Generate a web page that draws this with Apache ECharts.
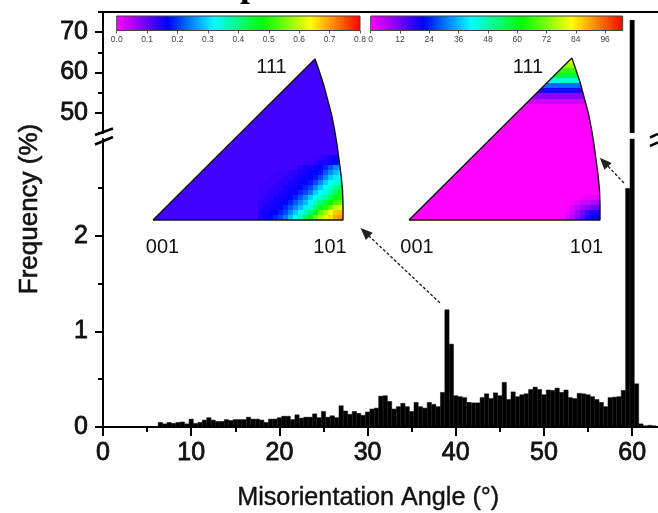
<!DOCTYPE html>
<html><head><meta charset="utf-8">
<style>html,body{margin:0;padding:0;background:#fff}#c{width:658px;height:513px}</style>
<script src="https://cdn.jsdelivr.net/npm/echarts@6/dist/echarts.min.js"></script>
</head><body><div id="c"></div>
<script>
// Histogram
const binStart = 6.5, binStep = 0.5;
const freq = [.05,.035,.05,.04,.05,.055,.035,.085,.04,.05,.075,.1,.075,.06,.06,.08,.07,.08,.08,.08,.105,.085,.085,.075,.05,.085,.085,
.1,.115,.115,.08,.13,.095,.105,.105,.14,.1,.165,.105,.12,.1,.225,.17,.135,.165,.145,.125,.16,.19,.2,.325,.33,.27,.19,.215,.25,.215,.165,.26,.215,.2,.26,.24,.215,.365,1.23,.87,
.33,.32,.31,.26,.255,.255,.31,.35,.30,.36,.33,.47,.29,.37,.32,.34,.35,.395,.42,.395,.34,.39,.385,.41,.365,.39,.31,.30,.355,.35,.34,.32,.29,.26,.215,.31,.315,.32,.385,2.5,73,.455,.035,.015,.02,.015];
const xMajor = [0,10,20,30,40,50,60], xMinor = [5,15,25,35,45,55];
const yLowMajor = [0,1,2], yLowMinor = [.5,1.5,2.5];
const yUpMajor = [50,60,70], yUpMinor = [45,55,65,75];
const arrows = [[[38.2,1.30],[29.7,2.04]],[[59.07,2.555],[56.8,2.775]]];

// Colour keys
const rainbowStops = [[0,'#ff00ff'],[.21,'#0000ff'],[.40,'#00ffff'],[.60,'#00ff00'],[.795,'#ffff00'],[1,'#ff0000']];
const scaleA = [0,.8], ticksA = [0,.1,.2,.3,.4,.5,.6,.7,.8];
const scaleB = [0,103.2], ticksB = [0,12,24,36,48,60,72,84,96];

// Inverse pole figures: cells of a 38 x 32 lattice
const ipfCols = 38, ipfRows = 32;
const outlineX = [0,32.4,33.1,34.1,34.9,35.7,36.3,36.8,37.2,37.6,37.9,38,38,0];
const outlineY = [0,32,30,27,24,21,18,15,12,9,6,3,0,0];
const baseA = .125, baseB = 0;
const hotAStartCol = 21;
const hotA = [
[.15,.16,.17,.19,.21,.24,.28,.32,.37,.42,.48,.54,.59,.62,.66,.69,.70],
[.15,.155,.16,.17,.19,.21,.25,.29,.32,.36,.42,.48,.54,.58,.63,.67,.68],
[.14,.15,.155,.16,.17,.19,.22,.25,.28,.31,.35,.41,.46,.50,.55,.60,.62],
[.14,.14,.15,.155,.16,.17,.19,.22,.25,.28,.32,.36,.40,.44,.48,.52,.54],
[.13,.14,.14,.15,.155,.16,.17,.19,.22,.25,.29,.33,.35,.38,.43,.47,.49],
[.13,.13,.14,.14,.15,.155,.16,.17,.19,.21,.24,.29,.32,.34,.38,.43,.46],
[.13,.13,.13,.14,.14,.15,.155,.16,.17,.19,.21,.25,.29,.32,.35,.39,.42],
[.125,.13,.13,.13,.14,.14,.15,.155,.16,.165,.18,.21,.25,.29,.32,.34,.36],
[.125,.125,.13,.13,.13,.14,.14,.15,.155,.16,.165,.18,.21,.25,.29,.31,.33],
[.125,.125,.125,.125,.13,.13,.14,.14,.15,.155,.16,.165,.18,.22,.25,.28,.30],
[.125,.125,.125,.125,.125,.125,.125,.13,.14,.15,.155,.16,.17,.19,.22,.25,.27],
[.125,.125,.125,.125,.125,.125,.125,.125,.125,.13,.13,.14,.15,.15,.16,.17,.19],
[.125,.125,.125,.125,.125,.125,.125,.125,.125,.125,.125,.13,.13,.14,.15,.16,.16]];
const cornerBStartCol = 31;
const cornerB = [
[3,6,10,14,19,22,22],
[2,4,8,12,16,19,20],
[1,3,5,8,10,12,13],
[0,1,2,4,5,6,7],
[0,0,0,1,2,2,3]];
const topBStartRow = 23;
const topB = [4,10,19,30,44,58,66,74,80];

function buildCellsA(){
  const out=[];
  for(let r=0;r<ipfRows;r++)for(let c=0;c<ipfCols;c++){
    let v=baseA;
    if(r<hotA.length&&c>=hotAStartCol)v=hotA[r][c-hotAStartCol];
    out.push([c,r,v]);
  }
  return out;
}
function buildCellsB(){
  const out=[];
  for(let r=0;r<ipfRows;r++)for(let c=0;c<ipfCols;c++){
    let v=baseB;
    if(r<cornerB.length&&c>=cornerBStartCol)v=cornerB[r][c-cornerBStartCol];
    if(r>=topBStartRow)v=topB[r-topBStartRow];
    out.push([c,r,v]);
  }
  return out;
}
function hex(h){return [1,3,5].map(i=>parseInt(h.substr(i,2),16));}
function rainbow(t){
  t=Math.max(0,Math.min(1,t));
  for(let i=1;i<rainbowStops.length;i++){
    if(t<=rainbowStops[i][0]){
      const a=rainbowStops[i-1],b=rainbowStops[i],f=(t-a[0])/(b[0]-a[0]);
      const A=hex(a[1]),B=hex(b[1]);
      return 'rgb('+A.map((x,k)=>Math.round(x+(B[k]-x)*f)).join(',')+')';
    }
  }
  return rainbowStops[rainbowStops.length-1][1];
}
function cellRender(scale){
  return function(params,api){
    const c=api.value(0),r=api.value(1),v=api.value(2);
    const p0=api.coord([c,r]),p1=api.coord([c+1,r+1]);
    const x0=Math.round(p0[0]),x1=Math.round(p1[0]),y0=Math.round(p0[1]),y1=Math.round(p1[1]);
    const pts=outlineX.map((x,i)=>api.coord([x,outlineY[i]]));
    return {type:'rect',shape:{x:x0,y:y1,width:x1-x0,height:y0-y1},
      style:{fill:rainbow((v-scale[0])/(scale[1]-scale[0]))},
      clipPath:{type:'polygon',shape:{points:pts}}};
  };
}
function barRender(scale){
  return function(params,api){
    const p0=api.coord([scale[0],0]),p1=api.coord([scale[1],1]);
    return {type:'rect',shape:{x:p0[0],y:p1[1],width:p1[0]-p0[0],height:p0[1]-p1[1]},
      style:{fill:new echarts.graphic.LinearGradient(0,0,1,0,rainbowStops.map(s=>({offset:s[0],color:s[1]}))),stroke:'#444',lineWidth:1}};
  };
}
const bars = freq.map((v,i)=>[binStart+i*binStep,v]);
const upperBars = bars.filter(d=>d[1]>=yUpMinor[0]);
const font='"Liberation Sans",Arial,sans-serif';
const axisText={fontFamily:font,fontSize:25,color:'#111',textBorderColor:'#111',textBorderWidth:.8};
const line2={show:true,onZero:false,lineStyle:{color:'#000',width:2}};
const noLine={show:false,onZero:false};
const xRange={min:0,max:62.93};

const chart=echarts.init(document.getElementById('c'),null,{renderer:'canvas'});
chart.setOption({
  animation:false,
  backgroundColor:'#fff',
  grid:[
    {left:103,right:0,top:139,bottom:86},
    {left:103,right:0,top:12,height:121},
    {left:153,top:59,width:190,height:161},
    {left:409,top:58,width:191,height:162},
    {left:116.7,top:16,width:243.3,height:14.5},
    {left:370.7,top:16,width:252,height:14.5}
  ],
  xAxis:[
    {type:'value',gridIndex:0,position:'bottom',...xRange,axisLine:line2,splitLine:{show:false},
      axisTick:{show:true,inside:false,customValues:xMajor,length:9,lineStyle:{width:2,color:'#000'}},
      axisLabel:{customValues:xMajor,margin:14,hideOverlap:false,...axisText}},
    {type:'value',gridIndex:0,position:'bottom',...xRange,axisLine:noLine,splitLine:{show:false},
      axisTick:{show:true,inside:false,customValues:xMinor,length:5,lineStyle:{width:2,color:'#000'}},axisLabel:{show:false}},
    {type:'value',gridIndex:1,position:'top',...xRange,axisLine:line2,splitLine:{show:false},axisTick:{show:false},axisLabel:{show:false}},
    {type:'value',gridIndex:2,min:0,max:ipfCols,show:false},
    {type:'value',gridIndex:3,min:0,max:ipfCols,show:false},
    {type:'value',gridIndex:4,position:'bottom',min:scaleA[0],max:scaleA[1],splitLine:{show:false},axisLine:noLine,
      axisTick:{show:true,customValues:ticksA,length:3,lineStyle:{color:'#555',width:1}},
      axisLabel:{customValues:ticksA,margin:5,fontSize:8.5,fontFamily:font,color:'#444',formatter:v=>Number(v).toFixed(1),hideOverlap:false}},
    {type:'value',gridIndex:5,position:'bottom',min:scaleB[0],max:scaleB[1],splitLine:{show:false},axisLine:noLine,
      axisTick:{show:true,customValues:ticksB,length:3,lineStyle:{color:'#555',width:1}},
      axisLabel:{customValues:ticksB,margin:5,fontSize:8.5,fontFamily:font,color:'#444',hideOverlap:false}}
  ],
  yAxis:[
    {type:'value',gridIndex:0,position:'left',min:0,max:3.0157,axisLine:line2,splitLine:{show:false},
      axisTick:{show:true,customValues:yLowMajor,length:8,lineStyle:{width:2,color:'#000'}},
      axisLabel:{customValues:yLowMajor,margin:15,hideOverlap:false,...axisText}},
    {type:'value',gridIndex:0,position:'left',min:0,max:3.0157,axisLine:noLine,splitLine:{show:false},
      axisTick:{show:true,customValues:yLowMinor,length:5,lineStyle:{width:2,color:'#000'}},axisLabel:{show:false}},
    {type:'value',gridIndex:1,position:'left',min:45,max:75,axisLine:line2,splitLine:{show:false},
      axisTick:{show:true,customValues:yUpMajor,length:8,lineStyle:{width:2,color:'#000'}},
      axisLabel:{customValues:yUpMajor,margin:15,hideOverlap:false,...axisText}},
    {type:'value',gridIndex:1,position:'left',min:45,max:75,axisLine:noLine,splitLine:{show:false},
      axisTick:{show:true,customValues:yUpMinor,length:5,lineStyle:{width:2,color:'#000'}},axisLabel:{show:false}},
    {type:'value',gridIndex:2,min:0,max:ipfRows,show:false},
    {type:'value',gridIndex:3,min:0,max:ipfRows,show:false},
    {type:'value',gridIndex:4,min:0,max:1,show:false},
    {type:'value',gridIndex:5,min:0,max:1,show:false}
  ],
  series:[
    {type:'bar',xAxisIndex:0,yAxisIndex:0,data:bars,barWidth:4.7,barGap:'-100%',
      itemStyle:{color:'#000',borderColor:'#000',borderWidth:.5},
      markLine:{silent:true,symbol:['none','triangle'],symbolSize:[10,12],animation:false,label:{show:false},
        lineStyle:{color:'#222',width:1.4,type:[3,2]},
        data:arrows.map(a=>[{coord:a[0]},{coord:a[1]}])}},
    {type:'bar',xAxisIndex:2,yAxisIndex:2,data:upperBars,barWidth:4.8,itemStyle:{color:'#000'}},
    {type:'custom',xAxisIndex:3,yAxisIndex:4,data:buildCellsA(),renderItem:cellRender(scaleA),silent:true},
    {type:'custom',xAxisIndex:4,yAxisIndex:5,data:buildCellsB(),renderItem:cellRender(scaleB),silent:true},
    {type:'line',xAxisIndex:3,yAxisIndex:4,data:outlineX.map((x,i)=>[x,outlineY[i]]),showSymbol:false,symbol:'none',clip:false,silent:true,lineStyle:{color:'#111',width:1.4},z:5},
    {type:'line',xAxisIndex:4,yAxisIndex:5,data:outlineX.map((x,i)=>[x,outlineY[i]]),showSymbol:false,symbol:'none',clip:false,silent:true,lineStyle:{color:'#111',width:1.4},z:5},
    {type:'custom',xAxisIndex:5,yAxisIndex:6,data:[[0]],renderItem:barRender(scaleA),silent:true},
    {type:'custom',xAxisIndex:6,yAxisIndex:7,data:[[0]],renderItem:barRender(scaleB),silent:true}
  ],
  graphic:[
    {type:'text',left:237,top:485,style:{text:'Misorientation Angle (°)',font:'25.2px '+font,fill:'#111',stroke:'#111',lineWidth:.4}},
    {type:'text',x:30,y:209,rotation:Math.PI/2,originX:0,originY:0,style:{text:'Frequency (%)',font:'26px '+font,fill:'#111',stroke:'#111',lineWidth:.6,align:'center',verticalAlign:'middle'}},
    {type:'text',x:250,y:-31,style:{text:'p',font:'bold 36px "Liberation Serif",serif',fill:'#000',align:'center',verticalAlign:'top'}},
    {type:'text',x:271.5,y:67,style:{text:'111',font:'20px '+font,fill:'#111',align:'center',verticalAlign:'middle'}},
    {type:'text',x:162.5,y:247,style:{text:'001',font:'20px '+font,fill:'#111',align:'center',verticalAlign:'middle'}},
    {type:'text',x:330,y:247,style:{text:'101',font:'20px '+font,fill:'#111',align:'center',verticalAlign:'middle'}},
    {type:'text',x:528,y:67,style:{text:'111',font:'20px '+font,fill:'#111',align:'center',verticalAlign:'middle'}},
    {type:'text',x:417,y:247,style:{text:'001',font:'20px '+font,fill:'#111',align:'center',verticalAlign:'middle'}},
    {type:'text',x:586.5,y:247,style:{text:'101',font:'20px '+font,fill:'#111',align:'center',verticalAlign:'middle'}},
    {type:'line',shape:{x1:95,y1:135,x2:113,y2:128.5},style:{stroke:'#000',lineWidth:2.5}},
    {type:'line',shape:{x1:95,y1:144.5,x2:113,y2:137},style:{stroke:'#000',lineWidth:2.5}},
    {type:'line',shape:{x1:650,y1:137.5,x2:658,y2:134},style:{stroke:'#000',lineWidth:2.5}},
    {type:'line',shape:{x1:650,y1:146,x2:658,y2:142.5},style:{stroke:'#000',lineWidth:2.5}}
  ]
});
</script></body></html>
